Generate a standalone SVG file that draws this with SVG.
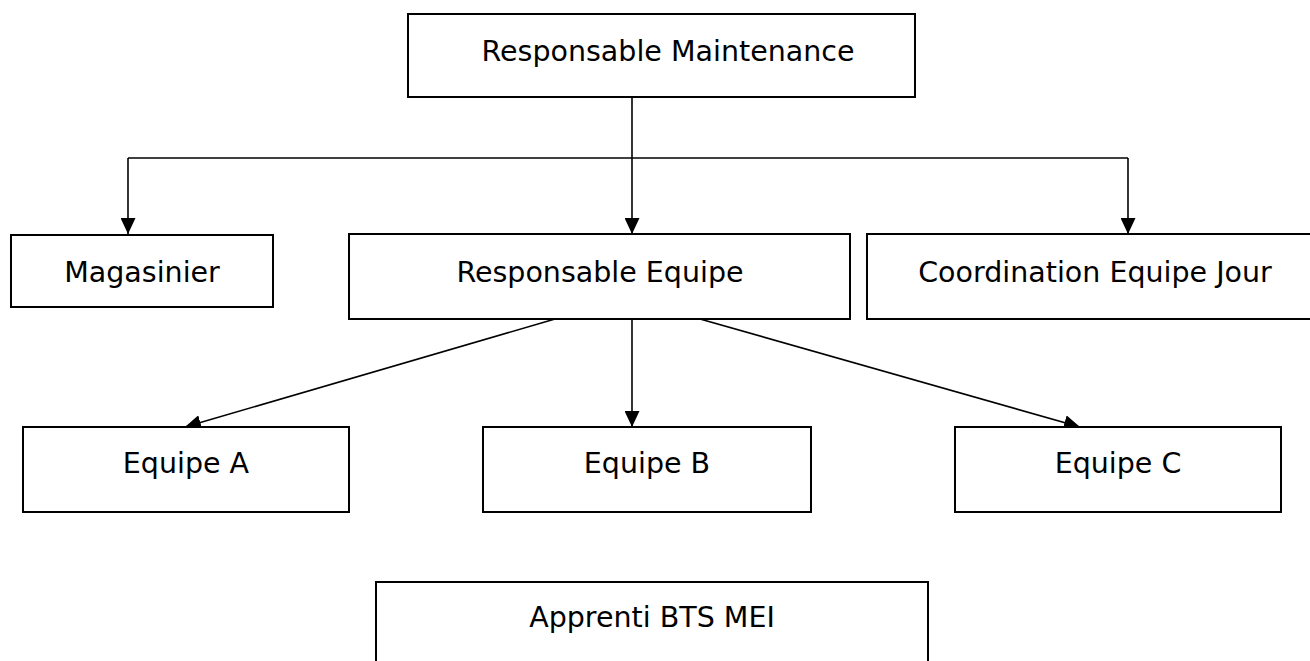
<svg xmlns="http://www.w3.org/2000/svg" width="1310" height="661" viewBox="0 0 1310 661">
  <style>
    .box { fill: #ffffff; stroke: #000000; stroke-width: 2; }
    .lbl { font-family: "DejaVu Sans", "Noto Sans", sans-serif; font-size: 28.5px; fill: #000000; text-anchor: middle; }
    .conn { fill: none; stroke: #000000; stroke-width: 1.6; }
  </style>
  <defs>
    <marker id="arrow" markerUnits="userSpaceOnUse" markerWidth="17" markerHeight="15" refX="16" refY="7.5" orient="auto">
      <path d="M0,0 L16,7.5 L0,15 Z" fill="#000000"/>
    </marker>
  </defs>
  <rect x="0" y="0" width="1310" height="661" fill="#ffffff"/>

  <g id="connectors">
    <line class="conn" x1="632" y1="97" x2="632" y2="234" marker-end="url(#arrow)"/>
    <line class="conn" x1="128" y1="158" x2="1128" y2="158"/>
    <line class="conn" x1="128" y1="158" x2="128" y2="234" marker-end="url(#arrow)"/>
    <line class="conn" x1="1128" y1="158" x2="1128" y2="234" marker-end="url(#arrow)"/>
    <line class="conn" x1="632" y1="319" x2="632" y2="427" marker-end="url(#arrow)"/>
    <line class="conn" x1="555" y1="319" x2="185" y2="427" marker-end="url(#arrow)"/>
    <line class="conn" x1="700" y1="319" x2="1080" y2="427" marker-end="url(#arrow)"/>
  </g>

  <g id="node-responsable-maintenance">
    <rect class="box" x="408" y="14" width="507" height="83"/>
    <text class="lbl" x="668" y="61">Responsable Maintenance</text>
  </g>
  <g id="node-magasinier">
    <rect class="box" x="11" y="235" width="262" height="72"/>
    <text class="lbl" x="142" y="282">Magasinier</text>
  </g>
  <g id="node-responsable-equipe">
    <rect class="box" x="349" y="234" width="501" height="85"/>
    <text class="lbl" x="600" y="282">Responsable Equipe</text>
  </g>
  <g id="node-coordination">
    <rect class="box" x="867" y="234" width="456" height="85"/>
    <text class="lbl" x="1095" y="282">Coordination Equipe Jour</text>
  </g>
  <g id="node-equipe-a">
    <rect class="box" x="23" y="427" width="326" height="85"/>
    <text class="lbl" x="186" y="473">Equipe A</text>
  </g>
  <g id="node-equipe-b">
    <rect class="box" x="483" y="427" width="328" height="85"/>
    <text class="lbl" x="647" y="473">Equipe B</text>
  </g>
  <g id="node-equipe-c">
    <rect class="box" x="955" y="427" width="326" height="85"/>
    <text class="lbl" x="1118" y="473">Equipe C</text>
  </g>
  <g id="node-apprenti">
    <rect class="box" x="376" y="582" width="552" height="100"/>
    <text class="lbl" x="652" y="627">Apprenti BTS MEI</text>
  </g>
</svg>
